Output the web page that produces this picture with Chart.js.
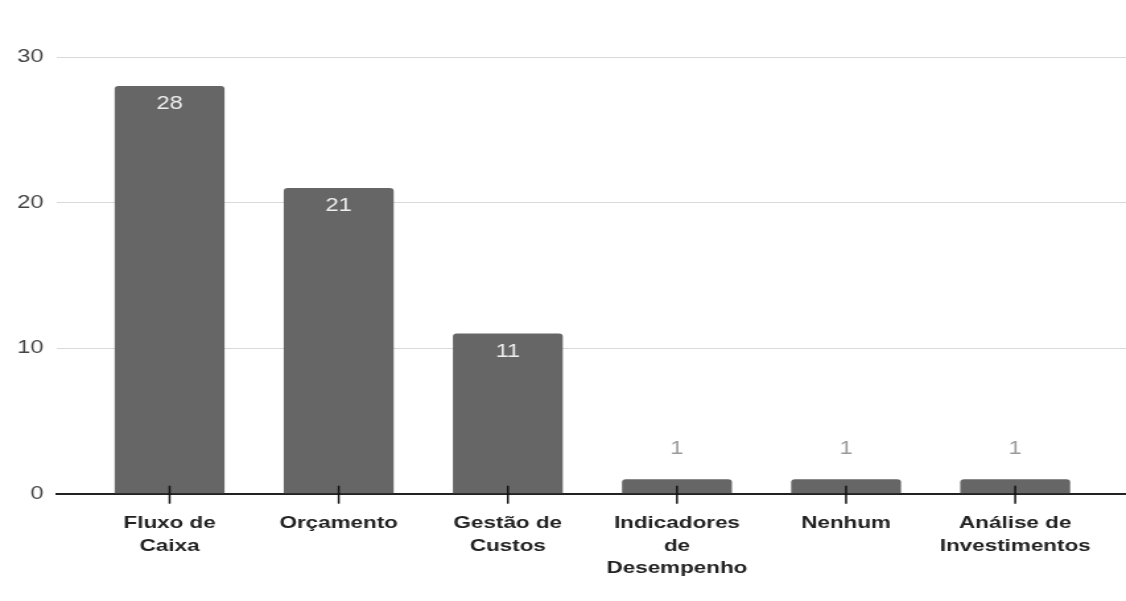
<!DOCTYPE html>
<html>
<head>
<meta charset="utf-8">
<script src="https://cdn.jsdelivr.net/npm/chart.js@4"></script>
<style>
  html, body { margin: 0; padding: 0; background: #fff; overflow: hidden; }
  /* the reference is stretched sideways, so the chart is drawn narrow and widened */
  #wrap { width: 853px; height: 601px; transform: scaleX(1.32); transform-origin: 0 0; }
</style>
</head>
<body>
<div id="wrap"><canvas id="chart"></canvas></div>
<script>
const categories = [
  ["Fluxo de", "Caixa"],
  ["Orçamento"],
  ["Gestão de", "Custos"],
  ["Indicadores", "de", "Desempenho"],
  ["Nenhum"],
  ["Análise de", "Investimentos"]
];
const values = [28, 21, 11, 1, 1, 1];
const yTicks = [0, 10, 20, 30];

// value labels: inside the bar when it fits, above it otherwise
const valueLabels = {
  id: 'valueLabels',
  afterDatasetsDraw(chart) {
    const ctx = chart.ctx;
    const meta = chart.getDatasetMeta(0);
    ctx.save();
    ctx.font = '18px "Liberation Sans", Arial, sans-serif';
    ctx.textAlign = 'center';
    ctx.textBaseline = 'middle';
    meta.data.forEach((bar, i) => {
      const h = bar.base - bar.y;
      if (h > 40) {
        ctx.fillStyle = '#eeeeee';
        ctx.fillText(values[i], bar.x, bar.y + 18);
      } else {
        ctx.fillStyle = '#9a9a9a';
        ctx.fillText(values[i], bar.x, bar.y - 30);
      }
    });
    ctx.restore();
  }
};

// tick marks crossing the baseline
const crossTicks = {
  id: 'crossTicks',
  afterDatasetsDraw(chart) {
    const ctx = chart.ctx;
    const x = chart.scales.x;
    const bottom = chart.chartArea.bottom;
    ctx.save();
    ctx.strokeStyle = '#111';
    ctx.lineWidth = 1.5;
    x.ticks.forEach((t, i) => {
      const px = x.getPixelForTick(i);
      ctx.beginPath();
      ctx.moveTo(px, bottom - 8);
      ctx.lineTo(px, bottom + 10);
      ctx.stroke();
    });
    ctx.restore();
  }
};

new Chart(document.getElementById('chart'), {
  type: 'bar',
  data: {
    datasets: [{
      data: values.map((v, i) => ({ x: i, y: v })),
      backgroundColor: '#666666',
      borderRadius: { topLeft: 3, topRight: 3 },
      borderSkipped: 'bottom',
      barPercentage: 0.65,
      categoryPercentage: 1
    }]
  },
  options: {
    responsive: true,
    maintainAspectRatio: false,
    animation: false,
    layout: { padding: { top: 57, left: 3, right: 0, bottom: 3 } },
    plugins: { legend: { display: false }, tooltip: { enabled: false } },
    scales: {
      x: {
        type: 'linear',
        offset: false,
        min: -0.667,
        max: 5.655,
        afterBuildTicks: s => { s.ticks = categories.map((c, i) => ({ value: i })); },
        grid: { display: false, drawTicks: false },
        border: { display: true, color: '#222', width: 2 },
        ticks: {
          padding: 19,
          maxRotation: 0,
          autoSkip: false,
          color: '#222',
          font: { family: '"Liberation Sans", Arial, sans-serif', size: 17, weight: 'bold', lineHeight: 1.3 },
          callback: v => categories[v]
        }
      },
      y: {
        min: 0,
        max: 30,
        afterBuildTicks: s => { s.ticks = yTicks.map(v => ({ value: v })); },
        grid: { color: '#d9d9d9', lineWidth: 1, drawTicks: false },
        border: { display: false },
        ticks: {
          padding: 10,
          color: '#444',
          font: { family: '"Liberation Sans", Arial, sans-serif', size: 18 }
        }
      }
    }
  },
  plugins: [valueLabels, crossTicks]
});
</script>
</body>
</html>
